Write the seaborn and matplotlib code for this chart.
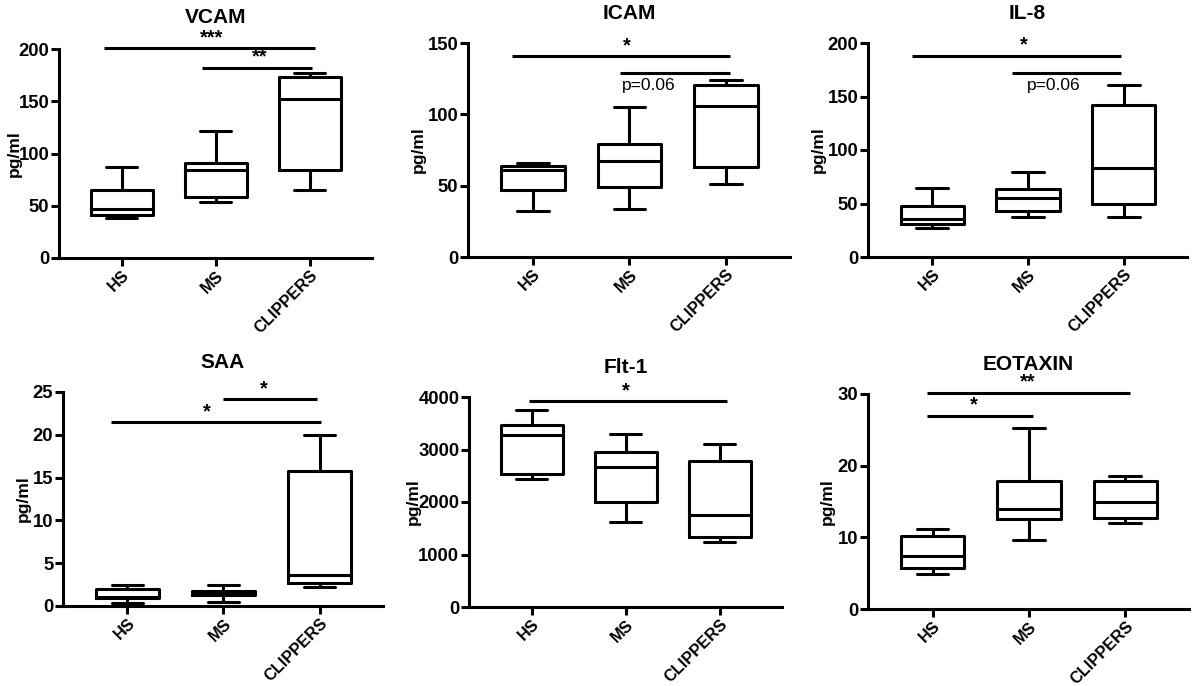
import matplotlib
matplotlib.use("Agg")
import matplotlib.pyplot as plt
import seaborn as sns
import pandas as pd

sns.set_style("ticks")
plt.rcParams['font.family'] = ['Liberation Sans', 'DejaVu Sans']
plt.rcParams['text.color'] = 'black'
plt.rcParams['axes.labelcolor'] = 'black'

groups = ["HS", "MS", "CLIPPERS"]

# five-number summaries: min, Q1, median, Q3, max
vcam_hs = [38.6, 41.5, 46.6, 65.0, 86.8]
vcam_ms = [53.3, 58.4, 84.5, 90.9, 121.9]
vcam_cl = [64.8, 83.9, 152.2, 173.2, 176.7]

icam_hs = [32.3, 46.9, 60.9, 63.8, 66.1]
icam_ms = [33.3, 48.8, 67.5, 79.0, 104.8]
icam_cl = [50.9, 63.3, 105.9, 120.5, 124.2]

il8_hs = [27.5, 30.6, 35.9, 47.8, 64.7]
il8_ms = [37.5, 43.1, 55.3, 63.4, 79.7]
il8_cl = [37.5, 49.1, 82.8, 141.6, 160.9]

saa_hs = [0.3, 0.95, 1.1, 1.95, 2.45]
saa_ms = [0.5, 1.29, 1.45, 1.8, 2.4]
saa_cl = [2.2, 2.7, 3.6, 15.8, 20.0]

flt_hs = [2439, 2535, 3280, 3459, 3758]
flt_ms = [1624, 2006, 2662, 2943, 3299]
flt_cl = [1229, 1338, 1752, 2783, 3102]

eot_hs = [4.84, 5.67, 7.44, 10.19, 11.16]
eot_ms = [9.63, 12.5, 13.9, 17.9, 25.3]
eot_cl = [12.05, 12.65, 15.0, 17.8, 18.6]

titles = ["VCAM", "ICAM", "IL-8", "SAA", "Flt-1", "EOTAXIN"]
title_pads = [19, 17, 17, 17, 17, 17]
panel_data = [
    (vcam_hs, vcam_ms, vcam_cl),
    (icam_hs, icam_ms, icam_cl),
    (il8_hs, il8_ms, il8_cl),
    (saa_hs, saa_ms, saa_cl),
    (flt_hs, flt_ms, flt_cl),
    (eot_hs, eot_ms, eot_cl),
]
yticks = [
    [0, 50, 100, 150, 200],
    [0, 50, 100, 150],
    [0, 50, 100, 150, 200],
    [0, 5, 10, 15, 20, 25],
    [0, 1000, 2000, 3000, 4000],
    [0, 10, 20, 30],
]

# significance annotations: (x_start, x_end, bar_y, label, label_x, label_y)
sig_bars = [
    [(-0.19, 2.05, 200.6, "***", 0.95, 201.3), (0.85, 2.02, 181.8, "**", 1.46, 183.0)],
    [(-0.21, 2.04, 140.6, "*", 0.97, 141.5), (0.9, 2.04, 128.9, "p=0.06", 1.2, 120.5)],
    [(-0.21, 1.97, 187.5, "*", 0.96, 189.0), (0.83, 1.97, 171.9, "p=0.06", 1.27, 160.5)],
    [(0.99, 1.97, 24.2, "*", 1.42, 24.3), (-0.17, 2.02, 21.5, "*", 0.83, 21.6)],
    [(-0.03, 2.08, 3924, "*", 1.0, 3940)],
    [(-0.06, 2.05, 30.1, "**", 0.99, 30.4), (-0.06, 1.04, 26.9, "*", 0.43, 27.1)],
]

W, H = 1192, 686
# axes boxes in pixels: left, right, bottom, top
boxes = [
    (59, 372, 258, 49),
    (468, 790, 257, 43),
    (868, 1187, 257, 43),
    (63, 383, 606, 392),
    (469, 782, 607, 397),
    (868, 1189, 609, 394),
]
# horizontal pixel centre of each y-axis label
ylabel_px = [14, 418, 818, 23, 413, 827]

fig = plt.figure(figsize=(W / 100, H / 100), dpi=100)
lw = 2.2
for i in range(6):
    l, r, b, t = boxes[i]
    ax = fig.add_axes([l / W, 1 - b / H, (r - l) / W, (b - t) / H])
    vals = []
    grp = []
    for g, arr in zip(groups, panel_data[i]):
        vals.extend(arr)
        grp.extend([g] * len(arr))
    df = pd.DataFrame({"group": grp, "value": vals})
    sns.boxplot(data=df, x="group", y="value", order=groups, ax=ax,
                whis=(0, 100), width=0.66, color="black", fill=False,
                linewidth=lw, showfliers=False,
                medianprops=dict(color="black", linewidth=lw))
    ax.set_xlim(-0.67, 2.66)
    ax.set_ylim(0, yticks[i][-1])
    ax.set_yticks(yticks[i])
    ax.set_yticklabels([str(v) for v in yticks[i]], fontsize=13.3, fontweight="bold")
    ax.set_xticks(range(3))
    ax.set_xticklabels(groups, rotation=45, ha="right", rotation_mode="anchor",
                       fontsize=11.8, fontweight="bold")
    ax.set_xlabel("")
    ax.set_ylabel("pg/ml", fontsize=12.5, fontweight="bold", va="center", color="black")
    ax.yaxis.set_label_coords((ylabel_px[i] - l) / (r - l), 0.5)
    ax.set_title(titles[i], fontsize=15, fontweight="bold", pad=title_pads[i], color="black")
    for s in ["top", "right"]:
        ax.spines[s].set_visible(False)
    for s in ["left", "bottom"]:
        ax.spines[s].set_linewidth(lw)
        ax.spines[s].set_color("black")
    ax.tick_params(axis="both", direction="out", length=6, width=lw, colors="black")
    ax.tick_params(axis="y", pad=1)
    ax.tick_params(axis="x", pad=1)
    for (x1, x2, yb, lab, lx, ly) in sig_bars[i]:
        ax.plot([x1, x2], [yb, yb], color="black", lw=lw, clip_on=False, solid_capstyle="butt")
        if lab.startswith("p"):
            ax.text(lx, ly, lab, ha="center", va="center", fontsize=12.5, color="black")
        else:
            ax.text(lx, ly, lab, ha="center", va="bottom", fontsize=14.5, fontweight="bold", color="black")

fig.savefig("out.png", dpi=100, facecolor="white")
